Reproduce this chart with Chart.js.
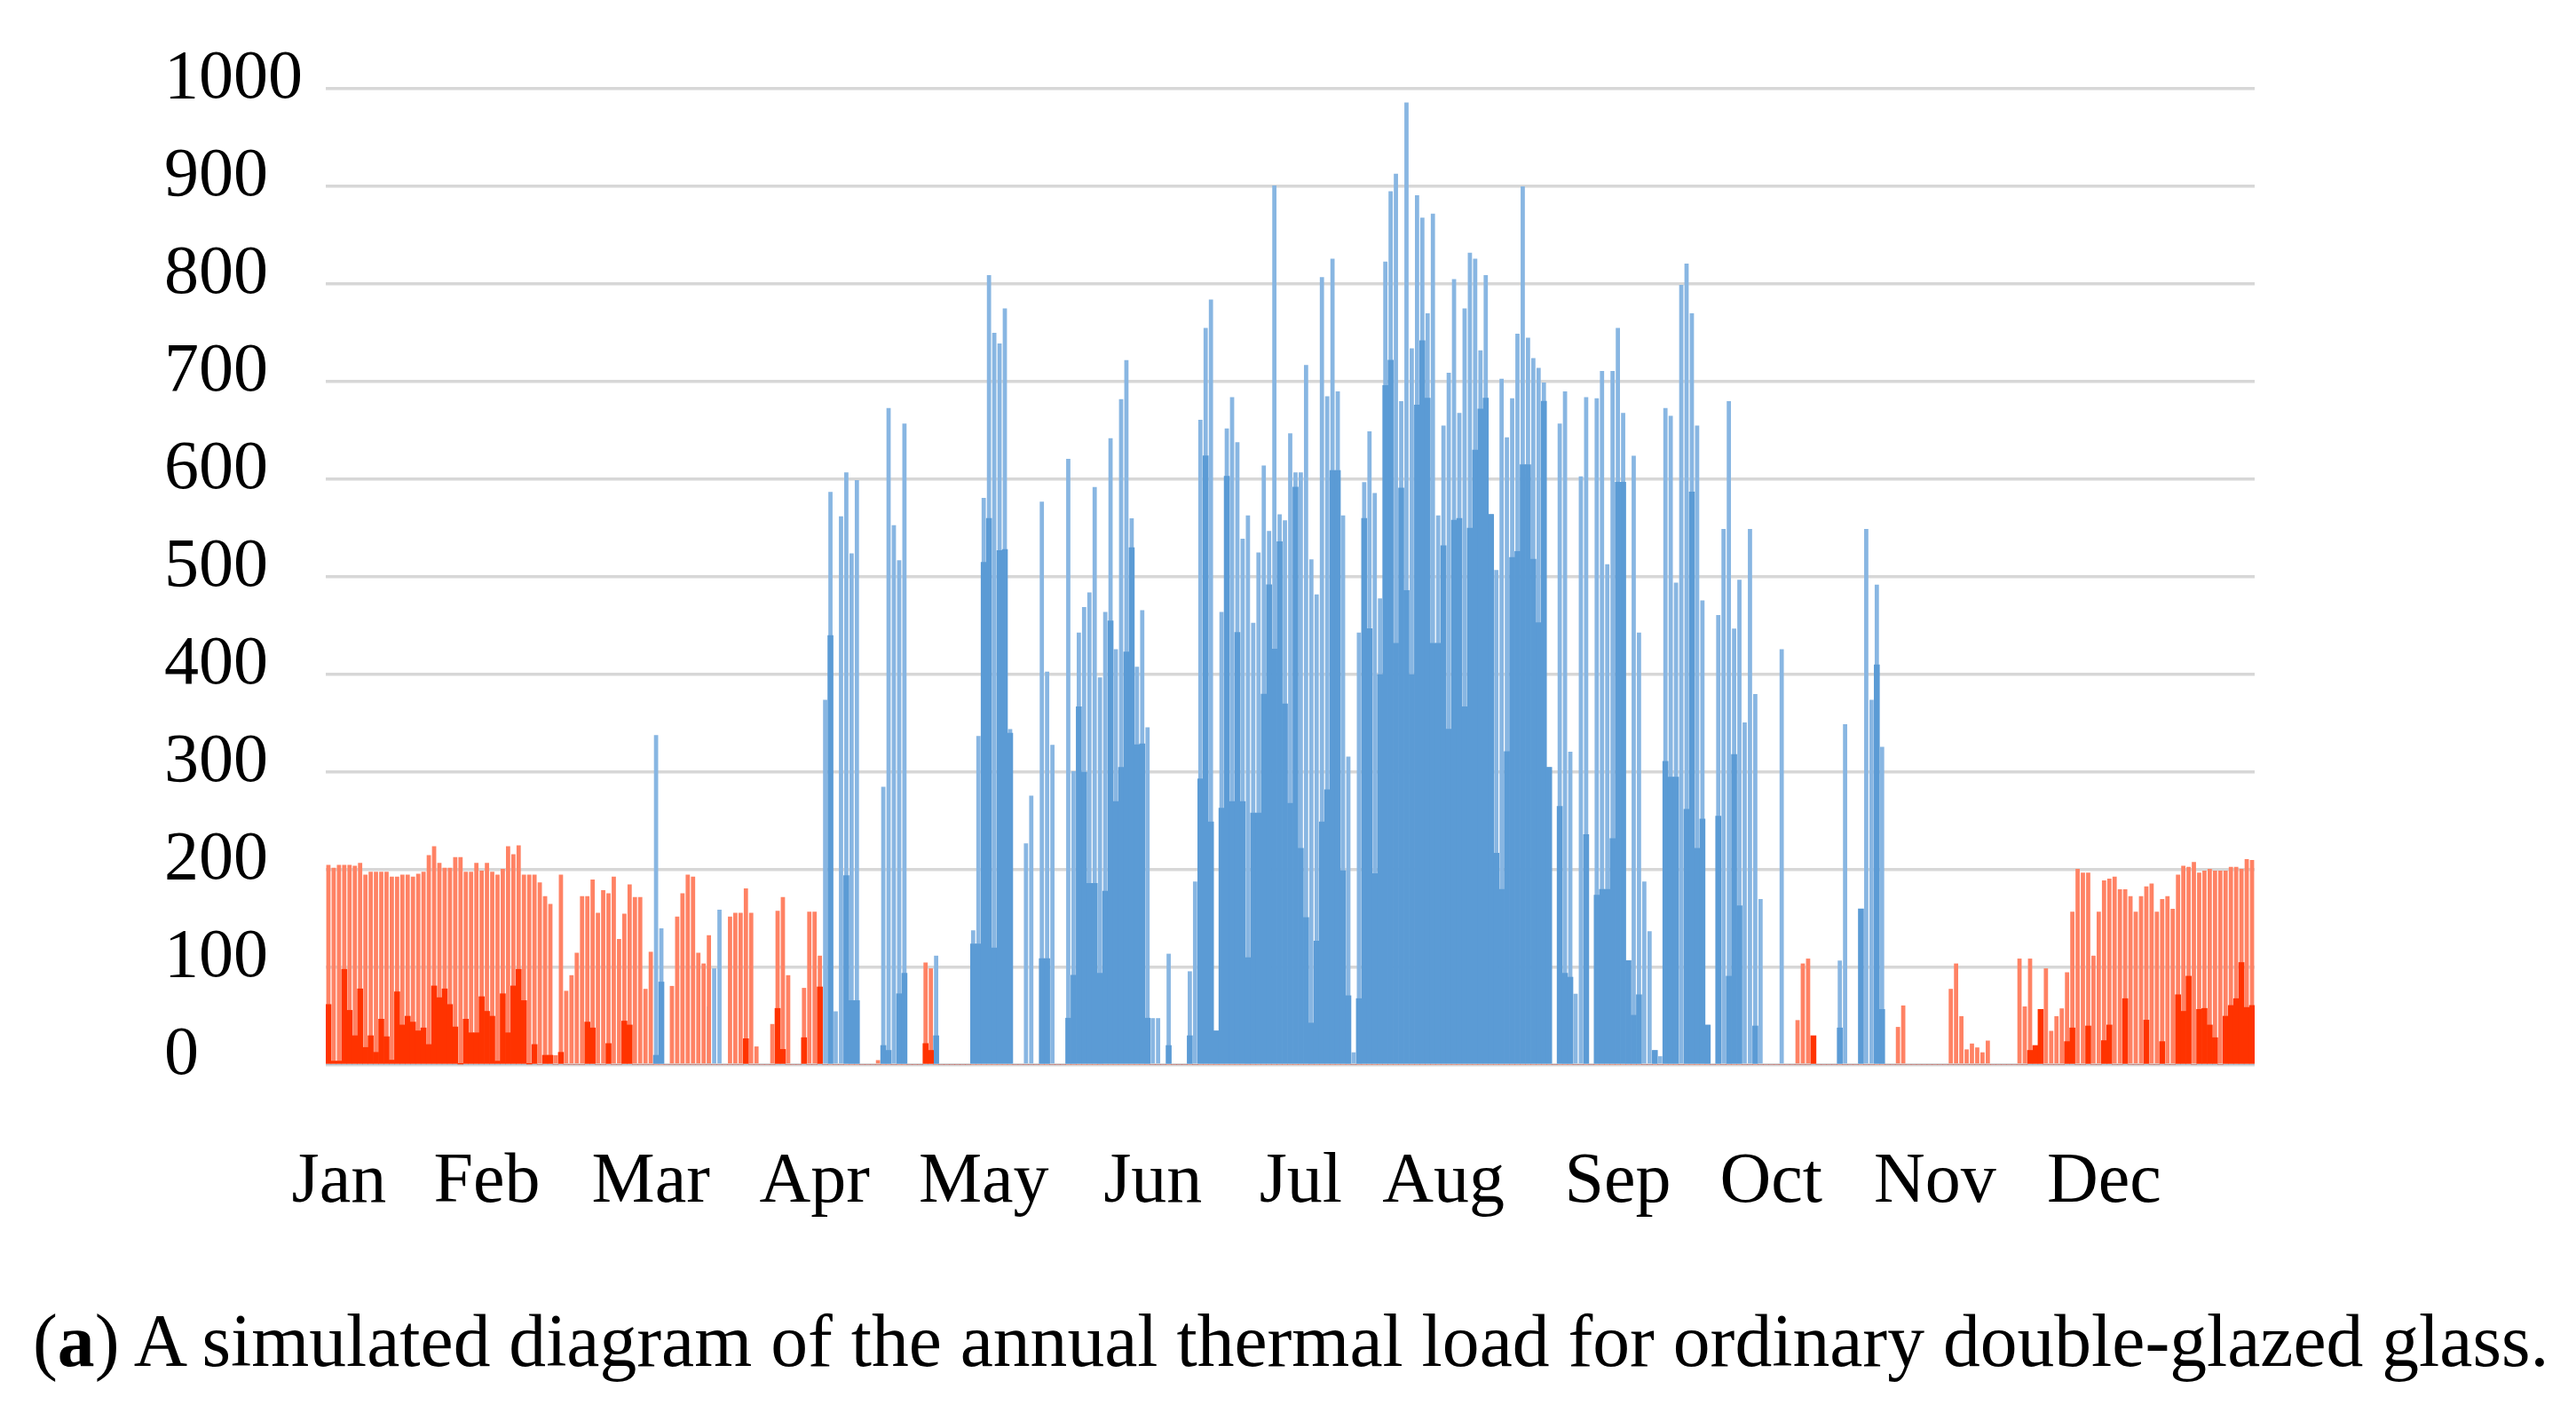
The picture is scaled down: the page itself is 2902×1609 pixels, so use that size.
<!DOCTYPE html>
<html>
<head>
<meta charset="utf-8">
<script src="https://cdn.jsdelivr.net/npm/chart.js@4.4.1/dist/chart.umd.min.js"></script>
<style>
  html, body { margin: 0; padding: 0; background: #ffffff; }
  #wrap { position: absolute; left: 0; top: 0; width: 2902px; height: 1609px; }
  #caption { position: absolute; left: 37px; top: 1476px; white-space: nowrap;
             font-family: "Liberation Serif", "DejaVu Serif", serif; font-size: 74px; line-height: 1; color: #000; }
</style>
</head>
<body>
<div id="wrap"><canvas id="c"></canvas></div>
<div id="caption"><span id="capText">(<b>a</b>) A simulated diagram of the annual thermal load for ordinary double-glazed glass.</span></div>
<script>
// ---- data (daily values, day 0 = 1 Jan) ----
const monthNames = ['Jan','Feb','Mar','Apr','May','Jun','Jul','Aug','Sep','Oct','Nov','Dec'];
const yTicks = [0,100,200,300,400,500,600,700,800,900,1000];

// heating load: daily peak and daily base level
const heatPeak = [
  205,202,205,205,205,204,207,195,198,198,198,198,193,193,195,195,193,196,198,215,224,207,202,202,213,213,198,198,207,199,207,
  198,195,201,224,216,225,195,195,195,187,173,165,10,195,76,92,115,173,173,190,156,179,176,193,129,155,185,172,
  172,78,116,8,0,0,81,152,176,195,193,115,104,133,0,0,0,152,156,156,181,156,19,0,0,42,158,172,92,0,0,
  79,157,157,112,0,0,0,0,0,0,0,0,0,0,5,0,0,0,0,0,0,0,0,105,99,0,0,0,0,0,
  0,0,0,0,0,0,0,0,0,0,0,0,0,0,0,0,0,0,0,0,0,0,0,0,0,0,0,0,0,0,0,
  0,0,0,0,0,0,0,0,0,0,0,0,0,0,0,0,0,0,0,0,0,0,0,0,0,0,0,0,0,0,
  0,0,0,0,0,0,0,0,0,0,0,0,0,0,0,0,0,0,0,0,0,0,0,0,0,0,0,0,0,0,0,
  0,0,0,0,0,0,0,0,0,0,0,0,0,0,0,0,0,0,0,0,0,0,0,0,0,0,0,0,0,0,0,
  0,0,0,0,0,0,0,0,0,0,0,0,0,0,0,0,0,0,0,0,0,0,0,0,0,0,0,0,0,0,
  0,0,0,0,0,46,104,109,30,0,0,0,0,0,0,0,0,0,0,0,0,0,0,0,39,61,0,0,0,0,0,
  0,0,0,78,104,50,16,22,18,13,25,0,0,0,0,0,109,60,109,20,57,99,35,50,58,95,157,201,197,197,
  112,157,189,191,193,180,180,173,157,173,183,186,157,170,173,160,195,204,203,208,197,199,201,199,199,199,203,203,201,211,210
];
const heatBase = [
  62,4,4,98,56,30,78,18,30,13,47,29,5,75,41,50,44,35,38,21,81,69,78,62,39,1,47,33,33,70,55,
  50,4,73,33,81,98,66,1,21,0,10,10,0,13,0,0,0,0,44,38,0,0,22,0,0,45,41,0,
  0,0,0,0,0,0,0,0,0,0,0,0,0,0,0,0,0,0,0,0,27,0,0,0,0,0,58,16,0,0,0,
  28,0,0,80,0,0,0,0,0,0,0,0,0,0,0,0,0,0,0,0,0,0,0,22,15,0,0,0,0,0,
  0,0,0,0,0,0,0,0,0,0,0,0,0,0,0,0,0,0,0,0,0,0,0,0,0,0,0,0,0,0,0,
  0,0,0,0,0,0,0,0,0,0,0,0,0,0,0,0,0,0,0,0,0,0,0,0,0,0,0,0,0,0,
  0,0,0,0,0,0,0,0,0,0,0,0,0,0,0,0,0,0,0,0,0,0,0,0,0,0,0,0,0,0,0,
  0,0,0,0,0,0,0,0,0,0,0,0,0,0,0,0,0,0,0,0,0,0,0,0,0,0,0,0,0,0,0,
  0,0,0,0,0,0,0,0,0,0,0,0,0,0,0,0,0,0,0,0,0,0,0,0,0,0,0,0,0,0,
  0,0,0,0,0,0,0,0,30,0,0,0,0,0,0,0,0,0,0,0,0,0,0,0,0,0,0,0,0,0,0,
  0,0,0,0,0,0,0,0,0,0,0,0,0,0,0,0,0,0,15,20,57,0,0,0,0,24,38,0,0,40,
  0,0,25,41,0,0,68,0,0,0,46,0,0,24,0,0,72,55,91,0,57,58,41,28,0,50,61,68,105,59,61
];

// cooling load: daily peak and daily base level
const coolPeak = [
  0,0,0,0,0,0,0,0,0,0,0,0,0,0,0,0,0,0,0,0,0,0,0,0,0,0,0,0,0,0,0,
  0,0,0,0,0,0,0,0,0,0,0,0,0,0,0,0,0,0,0,0,0,0,0,0,0,0,0,0,
  0,0,0,338,140,0,0,0,0,0,0,0,0,60,99,159,0,0,0,0,0,0,0,0,0,0,0,0,0,0,0,
  0,0,0,72,374,587,55,562,607,524,599,0,0,0,0,285,673,553,517,657,0,0,0,0,0,112,0,0,0,0,
  0,0,138,337,581,809,750,739,775,344,0,0,227,276,0,577,403,328,0,0,621,301,443,469,484,592,397,464,642,426,682,
  722,560,408,466,346,48,48,0,114,0,0,0,96,188,661,755,784,35,464,652,684,638,539,563,453,525,614,547,901,564,
  558,647,607,607,717,518,482,807,685,826,690,563,316,13,443,597,649,586,478,823,895,913,680,986,734,891,868,770,872,563,655,
  709,805,668,775,832,826,732,809,564,507,703,643,683,749,900,745,724,714,699,305,0,657,690,321,73,603,684,0,683,711,513,
  711,755,668,107,624,443,188,137,15,9,673,665,494,799,821,770,655,476,41,0,461,549,680,447,497,351,549,380,170,0,
  0,0,426,0,0,0,0,0,0,0,0,0,0,107,349,0,0,160,549,374,492,326,0,0,0,0,0,0,0,0,0,
  0,0,0,0,0,0,0,0,0,0,0,0,0,0,0,0,0,0,0,0,0,0,0,0,0,0,0,0,0,0,
  0,0,0,0,0,0,0,0,0,0,0,0,0,0,0,0,0,0,0,0,0,0,0,0,0,0,0,0,0,0,0
];
const coolBase = [
  0,0,0,0,0,0,0,0,0,0,0,0,0,0,0,0,0,0,0,0,0,0,0,0,0,0,0,0,0,0,0,
  0,0,0,0,0,0,0,0,0,0,0,0,0,0,0,0,0,0,0,0,0,0,0,0,0,0,0,0,
  0,0,0,10,85,0,0,0,0,0,0,0,0,0,0,0,0,0,0,0,0,0,0,0,0,0,0,0,0,0,0,
  0,0,0,0,0,440,0,0,194,66,66,0,0,0,0,20,15,0,73,94,0,0,0,0,0,30,0,0,0,0,
  0,0,124,124,515,560,120,527,528,340,0,0,0,0,0,109,109,0,0,0,48,92,367,300,186,186,94,178,455,270,305,
  423,530,328,329,48,0,0,0,20,0,0,0,30,0,293,624,249,35,263,603,270,443,270,110,258,258,380,492,426,536,
  370,268,592,222,151,43,127,249,282,609,609,199,71,0,68,560,447,196,400,696,722,432,591,486,400,676,742,683,432,432,532,
  344,558,560,367,550,630,672,683,564,217,180,321,520,526,615,615,518,453,680,305,0,265,94,90,0,0,236,0,174,180,180,
  232,597,597,107,51,72,0,0,15,0,311,295,295,0,262,587,222,252,41,0,255,0,91,318,163,0,0,40,0,0,
  0,0,0,0,0,0,0,0,0,0,0,0,0,38,0,0,0,160,0,0,410,57,0,0,0,0,0,0,0,0,0,
  0,0,0,0,0,0,0,0,0,0,0,0,0,0,0,0,0,0,0,0,0,0,0,0,0,0,0,0,0,0,
  0,0,0,0,0,0,0,0,0,0,0,0,0,0,0,0,0,0,0,0,0,0,0,0,0,0,0,0,0,0,0
];

const dayLabels = heatPeak.map((_, i) => String(i + 1));

// ---- layout / style ----
const monthTickIndex = [2,30,61,92,124,156,184,211,244,273,304,336];
const tickMap = {};
monthTickIndex.forEach((d, k) => { tickMap[d] = monthNames[k]; });

const serif = '"Liberation Serif", "Times New Roman", serif';

Chart.defaults.font.family = serif;
Chart.defaults.color = '#000';

new Chart(document.getElementById('c'), {
  type: 'bar',
  data: {
    labels: dayLabels,
    datasets: [
      { label: 'Heating base', data: heatBase, backgroundColor: '#FF3300', order: 0,
        barPercentage: 1.0, categoryPercentage: 1.0 },
      { label: 'Cooling base', data: coolBase, backgroundColor: '#5B9BD5', order: 0,
        barPercentage: 1.0, categoryPercentage: 1.0 },
      { label: 'Heating peak', data: heatPeak, backgroundColor: '#FF8264', order: 1,
        barPercentage: 0.8, categoryPercentage: 1.0 },
      { label: 'Cooling peak', data: coolPeak, backgroundColor: '#88B6E2', order: 1,
        barPercentage: 0.8, categoryPercentage: 1.0 }
    ]
  },
  options: {
    responsive: true,
    maintainAspectRatio: false,
    animation: false,
    devicePixelRatio: 1,
    datasets: { bar: { grouped: false, borderWidth: 0 } },
    layout: { padding: { left: 185, right: 362, top: 100, bottom: 0 } },
    plugins: { legend: { display: false }, tooltip: { enabled: false } },
    scales: {
      x: {
        type: 'category',
        offset: true,
        grid: { display: false, drawTicks: false },
        border: { display: false },
        ticks: {
          autoSkip: false, maxRotation: 0, minRotation: 0, padding: 85,
          font: { family: serif, size: 80 },
          callback: function (val, idx) { return tickMap[idx] !== undefined ? tickMap[idx] : ''; }
        },
        afterFit: function (scale) { scale.height = 409; }
      },
      y: {
        min: 0, max: 1000, z: 1,
        afterBuildTicks: function (scale) { scale.ticks = yTicks.map(v => ({ value: v })); },
        grid: { color: 'rgba(140,140,140,0.35)', lineWidth: 3.5, drawTicks: false },
        border: { display: false },
        ticks: {
          crossAlign: 'far', padding: 0, labelOffset: -10,
          font: { family: serif, size: 78 },
          callback: function (v) { return String(v); }
        },
        afterFit: function (scale) { scale.width = 182; }
      }
    }
  }
});

// fit caption to the reference width
const cap = document.getElementById('capText');
const target = 2833;
const w = cap.getBoundingClientRect().width;
if (w > 0) {
  const fs = 74 * target / w;
  document.getElementById('caption').style.fontSize = fs.toFixed(1) + 'px';
  document.getElementById('caption').style.top = (1540 - 0.8375 * fs).toFixed(1) + 'px';
}
</script>
</body>
</html>
